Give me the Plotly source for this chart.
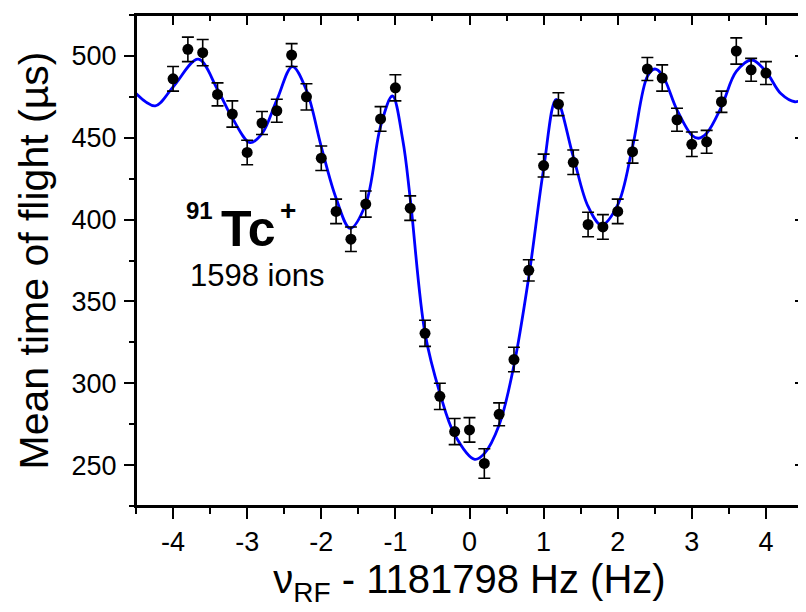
import plotly.graph_objects as go

# Measured data points
freq = [-4.0, -3.8, -3.6, -3.4, -3.2, -3.0, -2.8, -2.6, -2.4, -2.2, -2.0,
        -1.8, -1.6, -1.4, -1.2, -1.0, -0.8, -0.6, -0.4, -0.2, 0.0,
        0.2, 0.4, 0.6, 0.8, 1.0, 1.2, 1.4, 1.6, 1.8, 2.0,
        2.2, 2.4, 2.6, 2.8, 3.0, 3.2, 3.4, 3.6, 3.8, 4.0]
tof = [486, 504, 502, 476.5, 464.5, 441, 459, 466.5, 500.5, 475, 437.5,
       405, 388, 409.5, 461.5, 480.5, 407, 330.5, 292, 270.5, 271.5,
       251, 281, 314.5, 369, 433, 470.5, 435, 397, 395.5, 405,
       441.5, 492, 486.5, 461, 446, 447.5, 472, 503, 491.5, 489.5]
tof_err = [7.5, 7.5, 8, 7, 8, 7.5, 7, 7, 7, 8, 7.5,
           7.5, 7.5, 8, 7.5, 8, 7.5, 8, 8, 8, 7.5,
           9, 7, 7.5, 6.5, 7, 7, 7.5, 7.5, 7.5, 7.5,
           7, 7, 8, 7, 7.5, 7, 6.5, 8, 7, 7]

# Fit curve
fit_x = [-4.5, -4.24, -4.0, -3.66, -3.4, -3.2, -2.96, -2.8, -2.6, -2.39,
         -2.2, -2.0, -1.8, -1.61, -1.4, -1.2, -1.04, -0.9, -0.8, -0.6,
         -0.4, -0.2, 0.07, 0.2, 0.4, 0.6, 0.8, 1.0, 1.17, 1.4,
         1.6, 1.78, 2.0, 2.2, 2.4, 2.5, 2.6, 2.8, 3.0, 3.09,
         3.2, 3.4, 3.6, 3.81, 4.0, 4.2, 4.39, 4.5]
fit_y = [477, 469.5, 481, 498, 479.5, 462, 447, 452.5, 473, 493.5,
         479, 444.5, 413, 394.7, 409.5, 457, 475.5, 448.5, 413, 330.5,
         294, 268.5, 253.5, 257, 274.5, 311, 365, 431, 473.5, 438.5,
         408, 396.7, 409, 444.5, 487.5, 492, 488.5, 467, 451.5, 449.7,
         452.7, 469, 490.5, 497.5, 490.5, 477, 472, 473.5]

x_range = [-4.5, 4.5]
y_range = [225, 525]
x_tick_vals = [-4, -3, -2, -1, 0, 1, 2, 3, 4]
x_tick_text = ["-4", "-3", "-2", "-1", "0", "1", "2", "3", "4"]
y_tick_vals = [250, 300, 350, 400, 450, 500]
y_tick_text = ["250", "300", "350", "400", "450", "500"]

FONT = "Liberation Sans, Arial, sans-serif"

fig = go.Figure()

fig.add_trace(go.Scatter(
    x=fit_x, y=fit_y, mode="lines",
    line=dict(color="#0000ff", width=2.8, shape="spline", smoothing=1.0),
    showlegend=False, hoverinfo="skip"))

fig.add_trace(go.Scatter(
    x=freq, y=tof, mode="markers",
    marker=dict(color="black", size=11),
    error_y=dict(type="data", array=tof_err, visible=True,
                 color="black", thickness=1.6, width=6),
    showlegend=False))

# empty helper traces so the mirrored tick axes (top / right) get drawn
fig.add_trace(go.Scatter(x=[], y=[], xaxis="x2", yaxis="y",
                         showlegend=False, hoverinfo="skip"))
fig.add_trace(go.Scatter(x=[], y=[], xaxis="x", yaxis="y2",
                         showlegend=False, hoverinfo="skip"))

axis_common = dict(showgrid=False, zeroline=False, linecolor="black",
                   linewidth=2, tickcolor="black", tickwidth=2,
                   automargin=False)

# page body has an 8px margin, so the figure is sized to fit the window
fig.update_layout(
    width=798, height=604,
    margin=dict(l=128, r=3, t=7, b=106, autoexpand=False),
    paper_bgcolor="white", plot_bgcolor="white",
    font=dict(family=FONT, color="black"),
    xaxis=dict(range=x_range, tickvals=x_tick_vals, ticktext=x_tick_text,
               ticks="outside",
               ticklen=11, tickfont=dict(size=27, family=FONT),
               ticklabelstandoff=0, showline=True, mirror=True,
               minor=dict(ticks="outside", dtick=0.5, tick0=0, ticklen=6,
                          tickwidth=2, tickcolor="black"),
               title=dict(text="\u03bd<sub>RF</sub> - 1181798 Hz (Hz)",
                          font=dict(size=40, family=FONT), standoff=0),
               **axis_common),
    yaxis=dict(range=y_range, tickvals=y_tick_vals, ticktext=y_tick_text,
               ticks="outside",
               ticklen=10, tickfont=dict(size=27, family=FONT),
               ticklabelstandoff=2, showline=True, mirror=True,
               minor=dict(ticks="outside", dtick=25, tick0=0, ticklen=5,
                          tickwidth=2, tickcolor="black"),
               title=dict(text="Mean time of flight (\u00b5s)",
                          font=dict(size=41, family=FONT), standoff=10),
               **axis_common),
    xaxis2=dict(range=x_range, overlaying="x", side="top", anchor="y",
                tickvals=x_tick_vals, ticks="inside", ticklen=10,
                showticklabels=False, showline=False,
                minor=dict(ticks="inside", dtick=0.5, tick0=0, ticklen=6,
                           tickwidth=2, tickcolor="black"),
                **axis_common),
    yaxis2=dict(range=y_range, overlaying="y", side="right", anchor="x",
                tickvals=y_tick_vals, ticks="inside", ticklen=8,
                showticklabels=False, showline=False,
                minor=dict(ticks="inside", dtick=25, tick0=0, ticklen=4,
                           tickwidth=2, tickcolor="black"),
                **axis_common),
)

# plot frame
fig.add_shape(type="rect", xref="paper", yref="paper", x0=0, x1=1, y0=0, y1=1,
              line=dict(color="black", width=2), fillcolor="rgba(0,0,0,0)",
              layer="above")

fig.add_annotation(x=-3.647, y=405.4, text="<b>91</b>", showarrow=False,
                   xanchor="center", yanchor="middle",
                   font=dict(size=24, family=FONT, color="black"))
fig.add_annotation(x=-2.978, y=394.25, text="<b>Tc</b>", showarrow=False,
                   xanchor="center", yanchor="middle",
                   font=dict(size=50, family=FONT, color="black"))
fig.add_annotation(x=-2.449, y=405.7, text="<b>+</b>", showarrow=False,
                   xanchor="center", yanchor="middle",
                   font=dict(size=28, family=FONT, color="black"))
fig.add_annotation(x=-2.867, y=366.1, text="1598 ions", showarrow=False,
                   xanchor="center", yanchor="middle",
                   font=dict(size=31, family=FONT, color="black"))

fig.write_html("out.html")
